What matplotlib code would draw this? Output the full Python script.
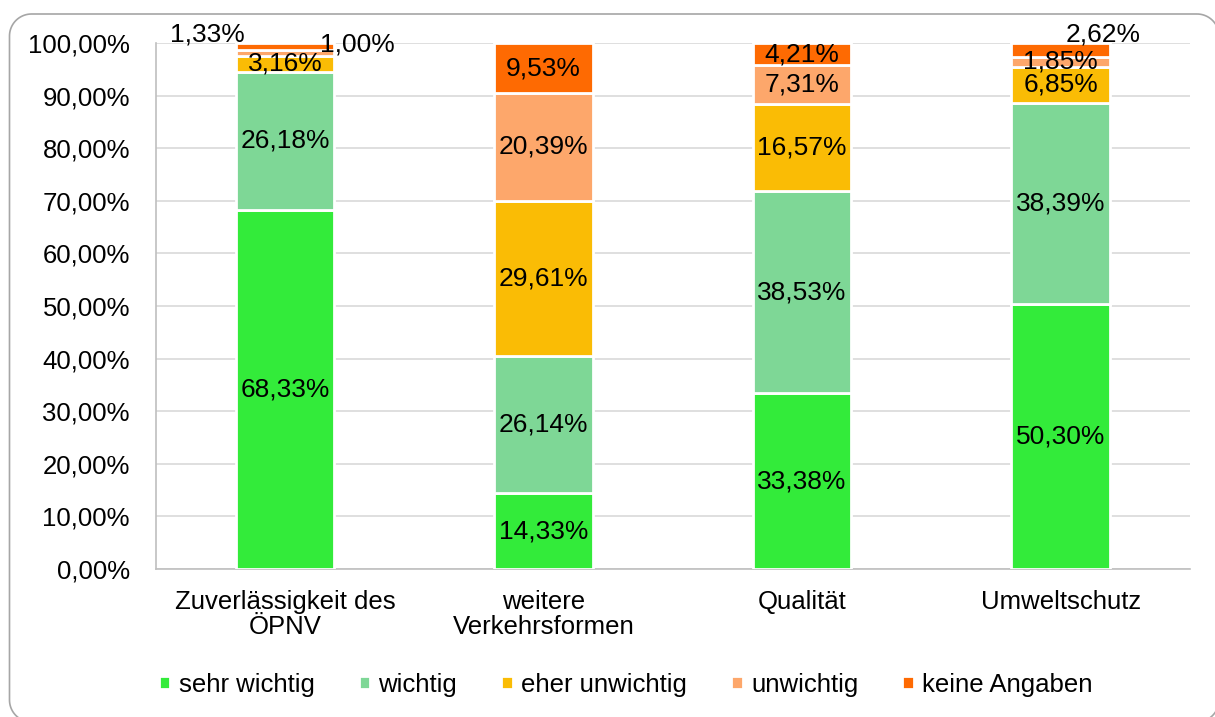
import matplotlib
matplotlib.use("Agg")
import matplotlib.pyplot as plt
from matplotlib.path import Path
from matplotlib.patches import PathPatch
import numpy as np

plt.rcParams['font.family'] = ['Liberation Sans', 'DejaVu Sans']

categories = ["Zuverlässigkeit des\nÖPNV", "weitere\nVerkehrsformen", "Qualität", "Umweltschutz"]
series_names = ["sehr wichtig", "wichtig", "eher unwichtig", "unwichtig", "keine Angaben"]
sehr_wichtig = [68.33, 14.33, 33.38, 50.30]
wichtig = [26.18, 26.14, 38.53, 38.39]
eher_unwichtig = [3.16, 29.61, 16.57, 6.85]
unwichtig = [1.00, 20.39, 7.31, 1.85]
keine_angaben = [1.33, 9.53, 4.21, 2.62]
colors = ["#33EB3A", "#7ED796", "#FABC05", "#FDA76B", "#FE6A02"]
yticks = list(range(0, 101, 10))

series = [sehr_wichtig, wichtig, eher_unwichtig, unwichtig, keine_angaben]

W, H = 1215, 717
fig = plt.figure(figsize=(W / 100, H / 100), dpi=100)
ax = fig.add_axes([0.1281, 0.2068, 0.8513, 0.7328])

x = np.arange(len(categories))
bottom = np.zeros(len(categories))
fs = 18.5
lfs = 19
for i, (vals, name, col) in enumerate(zip(series, series_names, colors)):
    vals = np.array(vals)
    ax.bar(x, vals, bottom=bottom, width=0.381, color=col, edgecolor="white",
           linewidth=2, label=name, zorder=3)
    for j, v in enumerate(vals):
        lbl = f"{v:.2f}%".replace(".", ",")
        cx, cy = x[j], bottom[j] + v / 2
        # special placement of small labels
        if j == 0 and i == 4:
            cx, cy = x[j] - 0.3, 101.7
        elif j == 0 and i == 3:
            cx, cy = x[j] + 0.28, 99.8
        elif j == 3 and i == 4:
            cx, cy = x[j] + 0.165, 101.7
        ax.text(cx, cy, lbl, ha="center", va="center", fontsize=lfs, color="black", zorder=5)
    bottom += vals

ax.set_xlim(-0.5, len(categories) - 0.5)
ax.set_ylim(0, 100)
ax.set_yticks(yticks)
ax.set_yticklabels([f"{t:.2f}%".replace(".", ",") for t in yticks], fontsize=fs)
ax.set_xticks(x)
ax.set_xticklabels(categories, fontsize=fs, linespacing=1.1)
ax.tick_params(axis="y", length=0, pad=18.5)
ax.tick_params(axis="x", length=0, pad=15)
ax.grid(axis="y", color="#D9D9D9", linewidth=1.2, zorder=0)
for s in ["top", "right"]:
    ax.spines[s].set_visible(False)
ax.spines["left"].set_color("#BFBFBF")
ax.spines["bottom"].set_color("#BFBFBF")
ax.spines["left"].set_linewidth(1.2)
ax.spines["bottom"].set_linewidth(1.2)

fig.legend(loc="center", bbox_to_anchor=(0.515, 0.045), ncol=5, frameon=False,
           fontsize=fs, handlelength=0.45, handleheight=0.45, handletextpad=0.32,
           columnspacing=1.72)

# outer rounded border (pixel coords from top-left), partly off-canvas
x0, y0, x1, y1, r = 9.5, 14.0, 1219.0, 722.0, 22.0
pts = []
def arc(cx, cy, a0, a1):
    for a in np.linspace(np.radians(a0), np.radians(a1), 20):
        pts.append((cx + r * np.cos(a), cy - r * np.sin(a)))
arc(x1 - r, y0 + r, 90, 0)      # top-right
arc(x1 - r, y1 - r, 0, -90)     # bottom-right
arc(x0 + r, y1 - r, -90, -180)  # bottom-left
arc(x0 + r, y0 + r, 180, 90)    # top-left
pts.append(pts[0])
verts = [(px / W, 1 - py / H) for px, py in pts]
border = PathPatch(Path(verts), transform=fig.transFigure, fill=False,
                   edgecolor="#A6A6A6", linewidth=1.2, clip_on=False)
fig.patches.append(border)

fig.savefig("out.png", dpi=100)
